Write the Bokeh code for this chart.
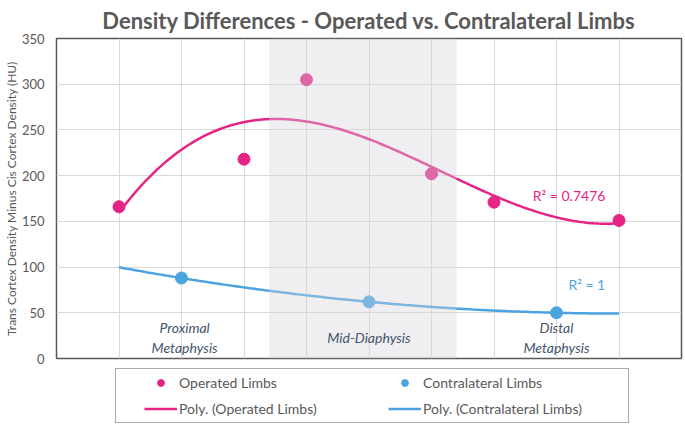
import numpy as np
from bokeh.plotting import figure
from bokeh.layouts import column
from bokeh.models import Range1d, FixedTicker, BoxAnnotation, Legend, LegendItem
from bokeh.core.properties import value
from bokeh.embed import file_html
from bokeh.resources import INLINE

# ---- data ----
title = "Density Differences - Operated vs. Contralateral Limbs"
y_label = "Trans Cortex Density Minus Cis Cortex Density (HU)"
op_x = [1, 3, 4, 6, 7, 9]
op_y = [166, 218, 305, 202, 171, 151]
co_x = [2, 5, 8]
co_y = [88, 62, 50]
y_ticks = [0, 50, 100, 150, 200, 250, 300, 350]
x_grid = [0, 1, 2, 3, 4, 5, 6, 7, 8, 9, 10]
region_names = ["Proximal\nMetaphysis", "Mid-Diaphysis", "Distal\nMetaphysis"]
region_x = [2.05, 5, 8]
r2_op = "R² = 0.7476"
r2_co = "R² = 1"
legend_labels = ["Operated Limbs", "Poly. (Operated Limbs)",
                 "Contralateral Limbs", "Poly. (Contralateral Limbs)"]
op_degree = 3
co_degree = 2

PINK = "#E62486"
BLUE = "#4BA4DF"
GRAY = "#595959"
FONT = "Lato"

p = figure(frame_width=625, frame_height=320,
           x_range=Range1d(0, 10), y_range=Range1d(0, 350),
           output_backend="svg", toolbar_location=None,
           min_border_left=50, min_border_right=2,
           min_border_top=30, min_border_bottom=8,
           title=title)
p.background_fill_color = "white"
p.border_fill_color = "white"
p.outline_line_color = GRAY
p.outline_line_width = 1.5

p.title.align = "center"
p.title.text_font = FONT
p.title.text_font_size = "22px"
p.title.text_font_style = "bold"
p.title.text_color = GRAY
p.title.standoff = 9

p.xaxis.visible = False
p.xgrid.ticker = FixedTicker(ticks=x_grid)
p.xgrid.grid_line_color = "#D9D9D9"
p.ygrid.grid_line_color = "#D9D9D9"

ya = p.yaxis[0]
ya.ticker = FixedTicker(ticks=y_ticks)
ya.axis_line_color = None
ya.major_tick_line_color = None
ya.minor_tick_line_color = None
ya.major_tick_out = 0
ya.major_label_standoff = 12
ya.major_label_text_font = FONT
ya.major_label_text_font_size = "13px"
ya.major_label_text_color = GRAY
ya.axis_label = y_label
ya.axis_label_text_font = FONT
ya.axis_label_text_font_size = "12px"
ya.axis_label_text_font_style = "normal"
ya.axis_label_text_color = GRAY
ya.axis_label_standoff = 0

# trend lines (polynomial fits of the data)
xf = np.linspace(min(op_x), max(op_x), 200)
op_fit = np.polyval(np.polyfit(op_x, op_y, op_degree), xf)
co_fit = np.polyval(np.polyfit(co_x, co_y, co_degree), xf)

p.line(xf, op_fit, line_color=PINK, line_width=2.5)
p.line(xf, co_fit, line_color=BLUE, line_width=2.5)
p.scatter(op_x, op_y, size=12, fill_color=PINK, line_color=PINK)
p.scatter(co_x, co_y, size=12, fill_color=BLUE, line_color=BLUE)

# shaded mid-diaphysis band
p.add_layout(BoxAnnotation(left=3.4, right=6.4, fill_color="#D4D4DC",
                           fill_alpha=0.38, line_color=None))

t = p.text(x=region_x, y=[23] * 3, text=region_names,
           text_font=value(FONT), text_font_style="italic",
           text_font_size="14px", text_color="#44546A",
           text_align="center", text_baseline="middle",
           text_line_height=1.15)
t.level = "overlay"

p.text(x=[7.62], y=[178], text=[r2_op], text_font=value(FONT),
       text_font_size="14px", text_color=PINK,
       text_align="left", text_baseline="middle")
p.text(x=[8.19], y=[81], text=[r2_co], text_font=value(FONT),
       text_font_size="14px", text_color=BLUE,
       text_align="left", text_baseline="middle")

# ---- legend strip below the chart ----
lg = figure(width=677, height=58, x_range=Range1d(0, 1), y_range=Range1d(0, 1),
            output_backend="svg", toolbar_location=None,
            x_axis_location=None, y_axis_location=None, min_border=0)
lg.grid.visible = False
lg.outline_line_color = None
lg.background_fill_color = "white"
lg.border_fill_color = "white"

nan = [np.nan]
d_op = lg.scatter(x=nan, y=nan, size=12, fill_color=PINK, line_color=PINK)
d_opfit = lg.line(x=nan, y=nan, line_color=PINK, line_width=2.5)
d_co = lg.scatter(x=nan, y=nan, size=12, fill_color=BLUE, line_color=BLUE)
d_cofit = lg.line(x=nan, y=nan, line_color=BLUE, line_width=2.5)

legend = Legend(items=[
    LegendItem(label=legend_labels[0], renderers=[d_op]),
    LegendItem(label=legend_labels[1], renderers=[d_opfit]),
    LegendItem(label=legend_labels[2], renderers=[d_co]),
    LegendItem(label=legend_labels[3], renderers=[d_cofit]),
], ncols=2, location=(59, 1), border_line_color=GRAY, border_line_width=1,
    background_fill_color="white", padding=5, margin=0, spacing=9,
    glyph_width=33, glyph_height=17, label_height=17, label_width=200,
    label_standoff=2, label_text_font=FONT, label_text_font_size="14px",
    label_text_color=GRAY,
    title=" ", title_location="left", title_text_font_size="8px",
    title_standoff=14)
lg.add_layout(legend)

layout = column(p, lg, spacing=0)
open("out.html", "w").write(file_html(layout, INLINE))
